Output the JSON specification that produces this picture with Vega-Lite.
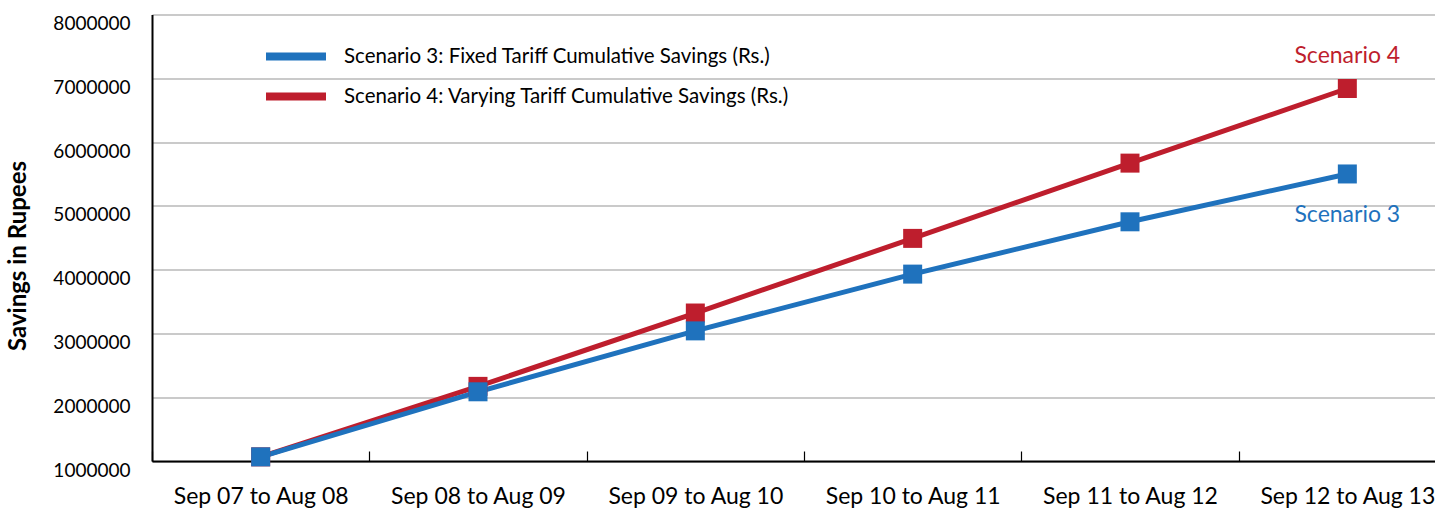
{
  "$schema": "https://vega.github.io/schema/vega-lite/v6.json",
  "autosize": {"type": "none"},
  "padding": {"left": 152, "top": 14.5, "right": 0, "bottom": 47},
  "width": 1283,
  "height": 446.5,
  "background": "white",
  "config": {
    "view": {"stroke": null},
    "font": "Lato"
  },
  "data": {
    "values": [
      {"period": "Sep 07 to Aug 08", "series": "Scenario 4: Varying Tariff Cumulative Savings (Rs.)", "short": "Scenario 4", "savings": 1065000},
      {"period": "Sep 08 to Aug 09", "series": "Scenario 4: Varying Tariff Cumulative Savings (Rs.)", "short": "Scenario 4", "savings": 2170000},
      {"period": "Sep 09 to Aug 10", "series": "Scenario 4: Varying Tariff Cumulative Savings (Rs.)", "short": "Scenario 4", "savings": 3320000},
      {"period": "Sep 10 to Aug 11", "series": "Scenario 4: Varying Tariff Cumulative Savings (Rs.)", "short": "Scenario 4", "savings": 4490000},
      {"period": "Sep 11 to Aug 12", "series": "Scenario 4: Varying Tariff Cumulative Savings (Rs.)", "short": "Scenario 4", "savings": 5670000},
      {"period": "Sep 12 to Aug 13", "series": "Scenario 4: Varying Tariff Cumulative Savings (Rs.)", "short": "Scenario 4", "savings": 6840000},
      {"period": "Sep 07 to Aug 08", "series": "Scenario 3: Fixed Tariff Cumulative Savings (Rs.)", "short": "Scenario 3", "savings": 1065000},
      {"period": "Sep 08 to Aug 09", "series": "Scenario 3: Fixed Tariff Cumulative Savings (Rs.)", "short": "Scenario 3", "savings": 2085000},
      {"period": "Sep 09 to Aug 10", "series": "Scenario 3: Fixed Tariff Cumulative Savings (Rs.)", "short": "Scenario 3", "savings": 3040000},
      {"period": "Sep 10 to Aug 11", "series": "Scenario 3: Fixed Tariff Cumulative Savings (Rs.)", "short": "Scenario 3", "savings": 3930000},
      {"period": "Sep 11 to Aug 12", "series": "Scenario 3: Fixed Tariff Cumulative Savings (Rs.)", "short": "Scenario 3", "savings": 4750000},
      {"period": "Sep 12 to Aug 13", "series": "Scenario 3: Fixed Tariff Cumulative Savings (Rs.)", "short": "Scenario 3", "savings": 5500000}
    ]
  },
  "encoding": {
    "x": {
      "field": "period", "type": "nominal", "sort": null,
      "scale": {"type": "band", "range": [0, 1304], "paddingInner": 0, "paddingOuter": 0},
      "axis": {
        "title": null, "labelAngle": 0, "labelFontSize": 23, "labelColor": "#000000",
        "labelPadding": 34, "tickBand": "extent", "ticks": true, "tickSize": -10,
        "tickColor": "#000000", "tickWidth": 1.2, "domainColor": "#000000", "domainWidth": 2,
        "grid": false, "labelLimit": 400
      }
    },
    "y": {
      "field": "savings", "type": "quantitative",
      "scale": {"domain": [1000000, 8000000], "nice": false, "zero": false},
      "axis": {
        "values": [1000000, 2000000, 3000000, 4000000, 5000000, 6000000, 7000000, 8000000],
        "format": "d", "ticks": false, "labelPadding": 22, "labelOffset": 9,
        "labelFontSize": 19, "labelColor": "#000000",
        "grid": true, "gridColor": "#b8b8b8", "gridWidth": 1.5,
        "domainColor": "#000000", "domainWidth": 2,
        "title": "Savings in Rupees", "titleFontSize": 24, "titleFontWeight": "bold",
        "titleColor": "#000000", "titleX": -134, "titleY": 241, "titleBaseline": "middle", "titleAlign": "center"
      }
    }
  },
  "layer": [
    {
      "mark": {"type": "line", "strokeWidth": 5},
      "encoding": {
        "color": {
          "field": "series", "type": "nominal",
          "scale": {
            "domain": ["Scenario 3: Fixed Tariff Cumulative Savings (Rs.)", "Scenario 4: Varying Tariff Cumulative Savings (Rs.)"],
            "range": ["#1f72bd", "#be1e2d"]
          },
          "legend": {
            "title": null, "orient": "none", "legendX": 110, "legendY": 22,
            "symbolType": "stroke", "symbolSize": 3600, "symbolStrokeWidth": 8,
            "labelFontSize": 20.5, "labelColor": "#000000", "labelOffset": 14,
            "clipHeight": 40, "rowPadding": 0, "padding": 0, "labelLimit": 600
          }
        }
      }
    },
    {
      "mark": {"type": "point", "shape": "square", "size": 361, "filled": true, "opacity": 1},
      "encoding": {
        "color": {"field": "series", "type": "nominal", "legend": null}
      }
    },
    {
      "transform": [{"filter": "datum.period === 'Sep 12 to Aug 13' && datum.short === 'Scenario 4'"}],
      "mark": {"type": "text", "fontSize": 23, "color": "#be1e2d", "dy": -32, "align": "center", "baseline": "middle"},
      "encoding": {"text": {"field": "short"}}
    },
    {
      "transform": [{"filter": "datum.period === 'Sep 12 to Aug 13' && datum.short === 'Scenario 3'"}],
      "mark": {"type": "text", "fontSize": 23, "color": "#1f72bd", "dy": 41.5, "align": "center", "baseline": "middle"},
      "encoding": {"text": {"field": "short"}}
    }
  ]
}
